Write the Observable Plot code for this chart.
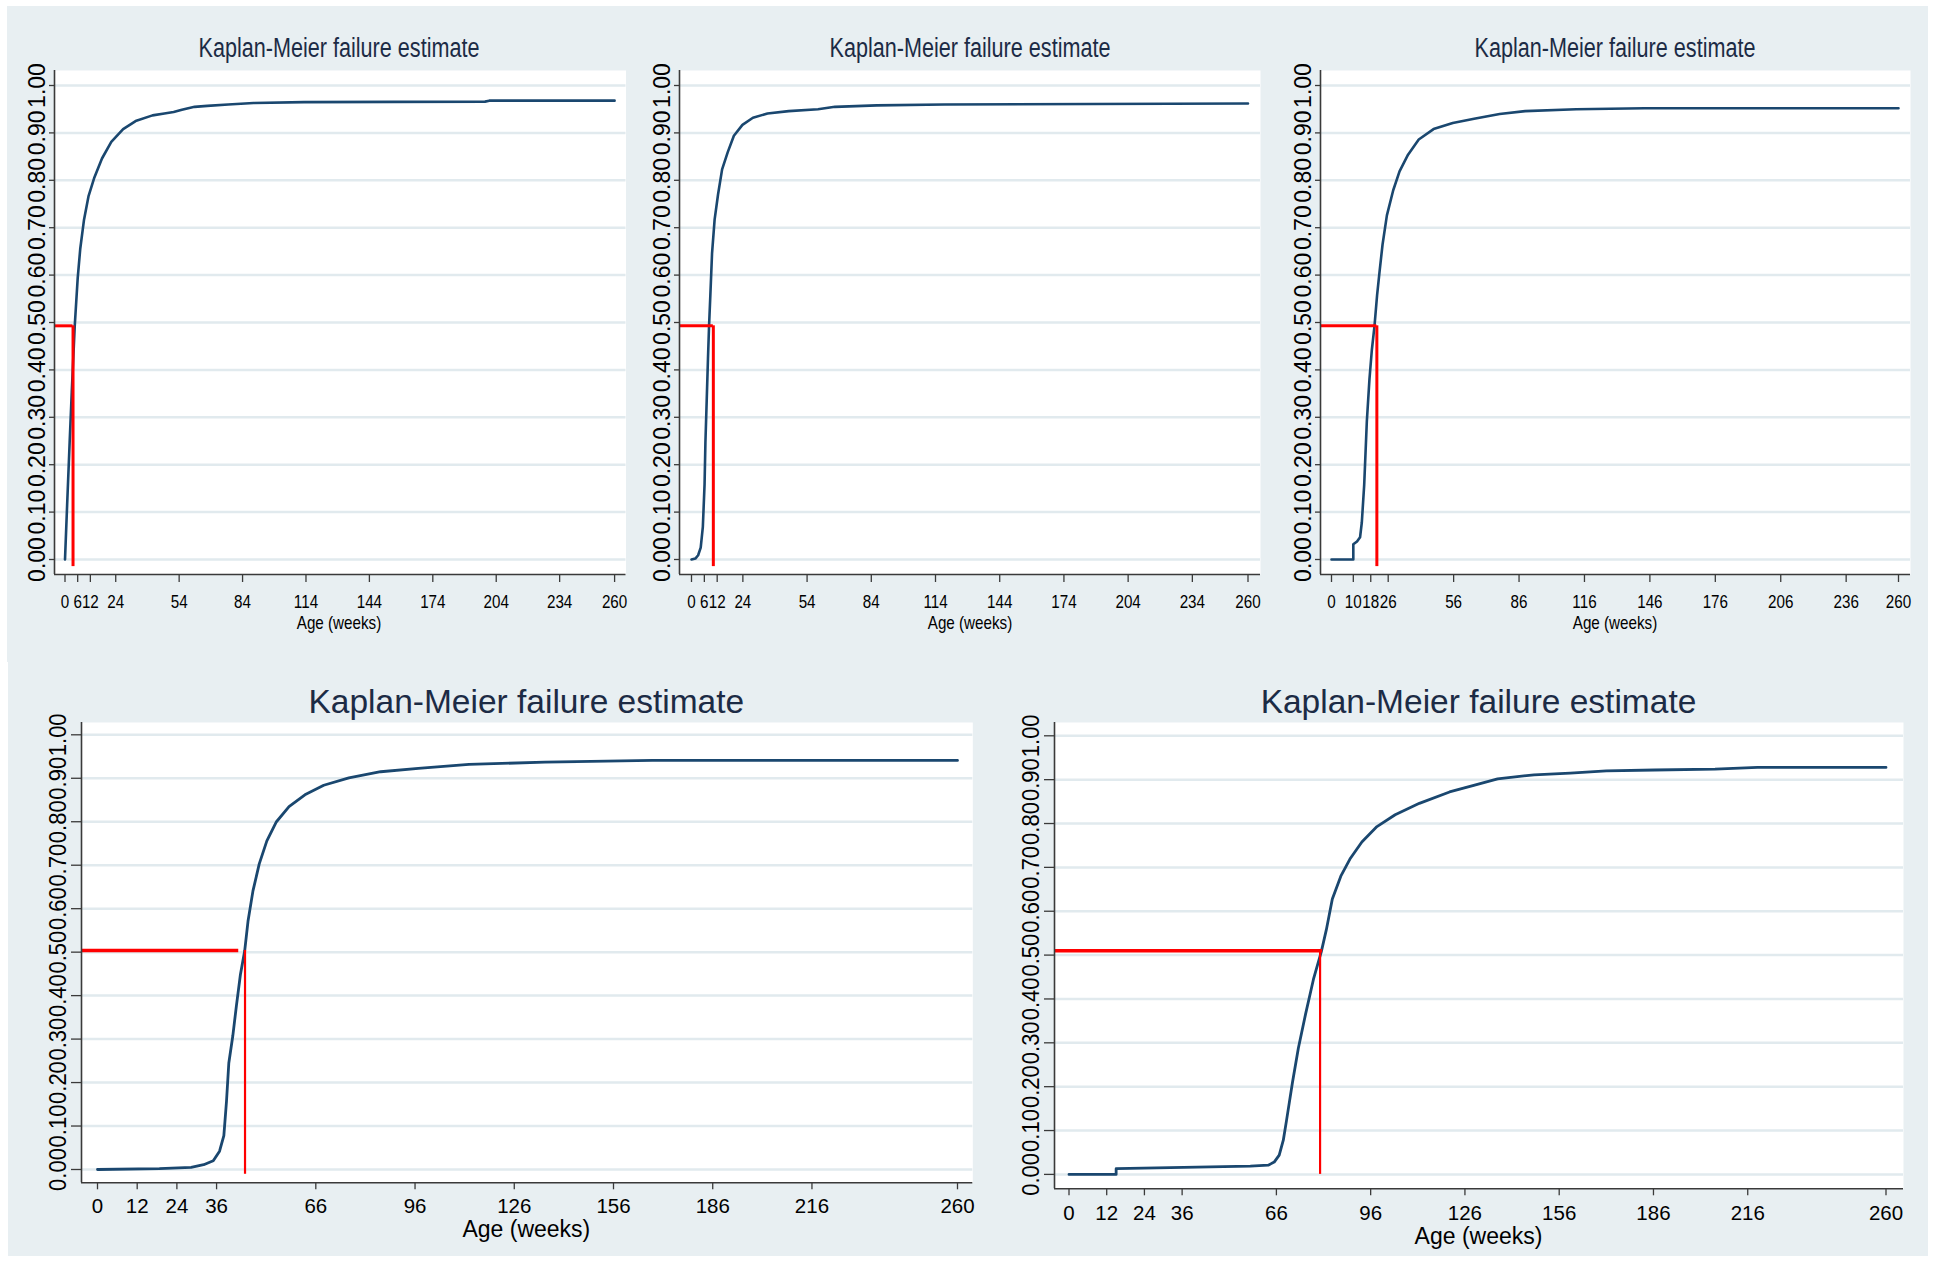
<!DOCTYPE html>
<html>
<head>
<meta charset="utf-8">
<script src="https://cdn.jsdelivr.net/npm/d3@7"></script>
<script src="https://cdn.jsdelivr.net/npm/@observablehq/plot@0.6"></script>
<style>
  html, body { margin: 0; padding: 0; background: #ffffff; }
  body { width: 1937px; height: 1261px; position: relative; overflow: hidden;
         font-family: "Liberation Sans", Arial, sans-serif; }
  .bg { position: absolute; background: #e8eff2; }
  .lbl { position: absolute; white-space: nowrap; line-height: 1; }
  .panel-svg { position: absolute; }
</style>
</head>
<body>
<div class="bg" style="left:7px;top:6px;width:1921px;height:656px"></div>
<div class="bg" style="left:8px;top:662px;width:1920px;height:594px"></div>
<script>
// ---------------- data ----------------
const panelTitles = [
  "Kaplan-Meier failure estimate",
  "Kaplan-Meier failure estimate",
  "Kaplan-Meier failure estimate",
  "Kaplan-Meier failure estimate",
  "Kaplan-Meier failure estimate"
];
const xAxisTitle = "Age (weeks)";
const yTicks = [0, 0.1, 0.2, 0.3, 0.4, 0.5, 0.6, 0.7, 0.8, 0.9, 1.0];

const xTicks1 = [0, 6, 12, 24, 54, 84, 114, 144, 174, 204, 234, 260];
const xTicks2 = [0, 6, 12, 24, 54, 84, 114, 144, 174, 204, 234, 260];
const xTicks3 = [0, 10, 18, 26, 56, 86, 116, 146, 176, 206, 236, 260];
const xTicks4 = [0, 12, 24, 36, 66, 96, 126, 156, 186, 216, 260];
const xTicks5 = [0, 12, 24, 36, 66, 96, 126, 156, 186, 216, 260];

const weeks1   = [0, 1.0, 2.2, 3.2, 4.6, 6.0, 7.2, 9.0, 11.1, 13.9, 17.5, 21.9, 27.5, 33.4, 41.4, 47.0, 51.4, 55.3, 61.3, 67.3, 77.2, 89.2, 113.1, 198.7, 200.7, 260];
const failure1 = [0, 0.114, 0.247, 0.353, 0.492, 0.593, 0.655, 0.717, 0.766, 0.806, 0.846, 0.881, 0.908, 0.925, 0.937, 0.941, 0.944, 0.949, 0.955, 0.957, 0.960, 0.963, 0.965, 0.966, 0.968, 0.968];

const weeks2   = [0, 1.8, 3.1, 4.3, 5.3, 6.1, 6.5, 7.1, 7.7, 8.2, 8.8, 9.6, 10.8, 12.4, 14.3, 16.9, 19.8, 23.8, 28.7, 35.5, 45.4, 59.1, 67.0, 86.6, 118.0, 260];
const failure2 = [0, 0.002, 0.009, 0.025, 0.069, 0.158, 0.247, 0.335, 0.424, 0.492, 0.557, 0.646, 0.717, 0.770, 0.823, 0.859, 0.894, 0.917, 0.932, 0.941, 0.946, 0.950, 0.955, 0.958, 0.960, 0.962];

const weeks3   = [0, 10.0, 10.0, 11.7, 13.1, 13.9, 15.0, 16.2, 17.4, 18.5, 19.7, 20.9, 22.1, 23.4, 25.4, 28.3, 31.2, 35.1, 40.0, 46.8, 55.6, 65.4, 77.1, 88.8, 112.2, 143.5, 260];
const failure3 = [0, 0, 0.032, 0.038, 0.047, 0.078, 0.158, 0.291, 0.380, 0.442, 0.492, 0.557, 0.610, 0.664, 0.726, 0.779, 0.819, 0.854, 0.886, 0.908, 0.921, 0.930, 0.940, 0.946, 0.950, 0.952, 0.952];

const weeks4   = [0, 18.7, 28.3, 32.1, 35.0, 36.9, 38.2, 39.0, 39.7, 40.9, 42.0, 43.2, 44.5, 45.5, 47.0, 48.9, 51.2, 54.1, 57.9, 62.7, 68.4, 76.0, 85.6, 97.0, 112.3, 135.3, 167.7, 260];
const failure4 = [0, 0.002, 0.005, 0.011, 0.020, 0.042, 0.078, 0.157, 0.245, 0.307, 0.377, 0.448, 0.503, 0.571, 0.641, 0.703, 0.756, 0.800, 0.835, 0.862, 0.884, 0.901, 0.915, 0.923, 0.932, 0.937, 0.941, 0.941];

const weeks5   = [0, 15.0, 15.0, 36.5, 57.7, 63.4, 65.3, 66.9, 68.2, 69.2, 71.1, 73.0, 75.3, 77.8, 80.3, 81.9, 83.8, 86.5, 89.4, 93.2, 98.0, 103.8, 111.5, 121.1, 128.8, 136.4, 148.0, 159.5, 171.0, 186.4, 205.6, 219.1, 260];
const failure5 = [0, 0, 0.013, 0.016, 0.019, 0.021, 0.028, 0.044, 0.078, 0.122, 0.209, 0.288, 0.366, 0.445, 0.508, 0.558, 0.628, 0.680, 0.719, 0.758, 0.793, 0.820, 0.846, 0.872, 0.887, 0.902, 0.911, 0.915, 0.920, 0.922, 0.924, 0.928, 0.928];

// median reference lines (red)
const medianFailure = [0.493, 0.493, 0.493, 0.504, 0.510];
const medianHorizEnd = [3.8, 10.2, 20.8, 42.7, 80.7];
const medianVertX = [3.8, 10.2, 20.8, 44.6, 79.9];
const medianVertBottom = [-0.015, -0.015, -0.015, -0.011, 0.0];

const allWeeks = [weeks1, weeks2, weeks3, weeks4, weeks5];
const allFailure = [failure1, failure2, failure3, failure4, failure5];
const allXTicks = [xTicks1, xTicks2, xTicks3, xTicks4, xTicks5];

// ---------------- layout (pixels on page) ----------------
const layout = [
  {L: 53.5, T: 70,    R: 625,  B: 574,    x0: 64,     x260: 613.6,  y0: 559,    y1: 85,    row: "top",    titleY: 48,  labelY: 621.7, xPad: 12},
  {L: 679,  T: 70,    R: 1260, B: 574,    x0: 691,    x260: 1247.5, y0: 559,    y1: 85,    row: "top",    titleY: 48,  labelY: 621.7, xPad: 12},
  {L: 1320, T: 70,    R: 1910, B: 574,    x0: 1331,   x260: 1898,   y0: 559,    y1: 85,    row: "top",    titleY: 48,  labelY: 621.7, xPad: 12},
  {L: 80.7, T: 722,   R: 972,  B: 1182.3, x0: 96.7,   x260: 956.7,  y0: 1169,   y1: 734.3, row: "bottom", titleY: 702, labelY: 1229,  xPad: 8.5},
  {L: 1054, T: 721.7, R: 1903, B: 1188,   x0: 1068.5, x260: 1885.5, y0: 1173.6, y1: 735,   row: "bottom", titleY: 702, labelY: 1236,  xPad: 10}
];
const rowStyle = {
  top:    {titleSize: 27, titleSX: 0.8, xTickSize: 19, xTickSX: 0.8, xTickLen: 8,
           yTickSize: 23, yTickSY: 1.0, yTickLen: 5, yTickPad: 5, labelSize: 19, labelSX: 0.8,
           curveW: 2.6, redH: 3, redV: 3},
  bottom: {titleSize: 33.5, titleSX: 1.0, xTickSize: 20.5, xTickSX: 1.0, xTickLen: 7,
           yTickSize: 22, yTickSY: 1.05, yTickLen: 10, yTickPad: 6, labelSize: 23, labelSX: 1.0,
           curveW: 2.8, redH: 3.5, redV: 2.2}
};
const colors = {curve: "#1a476f", red: "#ff0000", grid: "#e1eaee", axis: "#3a3a3a", title: "#1c2b45", text: "#000000"};

function addLabel(text, cx, cy, size, sx, color) {
  const d = document.createElement("div");
  d.className = "lbl";
  d.textContent = text;
  d.style.left = cx + "px";
  d.style.top = cy + "px";
  d.style.fontSize = size + "px";
  d.style.color = color;
  d.style.transform = `translate(-50%,-50%) scaleX(${sx})`;
  document.body.appendChild(d);
}

layout.forEach((lay, i) => {
  const st = rowStyle[lay.row];
  const kx = (lay.x260 - lay.x0) / 260;
  const xDomain = [(lay.L - lay.x0) / kx, 260 + (lay.R - lay.x260) / kx];
  const ky = lay.y0 - lay.y1;
  const yDomain = [-(lay.B - lay.y0) / ky, 1 + (lay.y1 - lay.T) / ky];
  const mL = 80, mT = 10, mR = 10, mB = 45;
  const width = lay.R - lay.L + mL + mR;
  const height = lay.B - lay.T + mT + mB;
  const data = allWeeks[i].map((w, j) => ({w, f: allFailure[i][j]}));

  const chart = Plot.plot({
    width, height,
    marginLeft: mL, marginRight: mR, marginTop: mT, marginBottom: mB,
    x: {domain: xDomain},
    y: {domain: yDomain},
    style: {background: "transparent", fontFamily: "'Liberation Sans', Arial, sans-serif", color: colors.text, overflow: "visible"},
    marks: [
      Plot.frame({fill: "white", stroke: null}),
      Plot.gridY(yTicks, {stroke: colors.grid, strokeOpacity: 1, strokeWidth: 2.5}),
      Plot.line(data, {x: "w", y: "f", stroke: colors.curve, strokeWidth: st.curveW, curve: "linear", strokeLinejoin: "round"}),
      Plot.ruleY([medianFailure[i]], {x1: xDomain[0], x2: medianHorizEnd[i], stroke: colors.red, strokeWidth: st.redH}),
      Plot.ruleX([medianVertX[i]], {y1: medianFailure[i], y2: medianVertBottom[i], stroke: colors.red, strokeWidth: st.redV}),
      Plot.ruleX([xDomain[0]], {stroke: colors.axis, strokeWidth: 1.6}),
      Plot.ruleY([yDomain[0]], {stroke: colors.axis, strokeWidth: 1.6}),
      Plot.axisX(allXTicks[i], {tickSize: st.xTickLen, tickPadding: lay.xPad, fontSize: st.xTickSize,
        stroke: colors.axis, strokeWidth: 1.3, tickFormat: d => String(d), label: null}),
      Plot.axisY(yTicks, {tickSize: st.yTickLen, tickPadding: st.yTickPad, fontSize: st.yTickSize,
        tickRotate: -90, stroke: colors.axis, strokeWidth: 1.3, tickFormat: d3.format(".2f"), label: null})
    ]
  });
  chart.classList.add("panel-svg");
  chart.style.left = (lay.L - mL) + "px";
  chart.style.top = (lay.T - mT) + "px";
  document.body.appendChild(chart);

  const squeeze = (sel, sx, sy) => {
    if (sx === 1 && sy === 1) return;
    chart.querySelectorAll(sel).forEach(t => {
      const tr = t.getAttribute("transform") || "";
      t.setAttribute("transform", tr + ` scale(${sx},${sy})`);
    });
  };
  squeeze('g[aria-label="x-axis tick label"] text', st.xTickSX, 1);
  // rotated labels: local y is the horizontal screen direction
  squeeze('g[aria-label="y-axis tick label"] text', 1, st.yTickSY);

  const cx = (lay.L + lay.R) / 2;
  addLabel(panelTitles[i], cx, lay.titleY, st.titleSize, st.titleSX, colors.title);
  addLabel(xAxisTitle, cx, lay.labelY, st.labelSize, st.labelSX, colors.text);
});
</script>
</body>
</html>
